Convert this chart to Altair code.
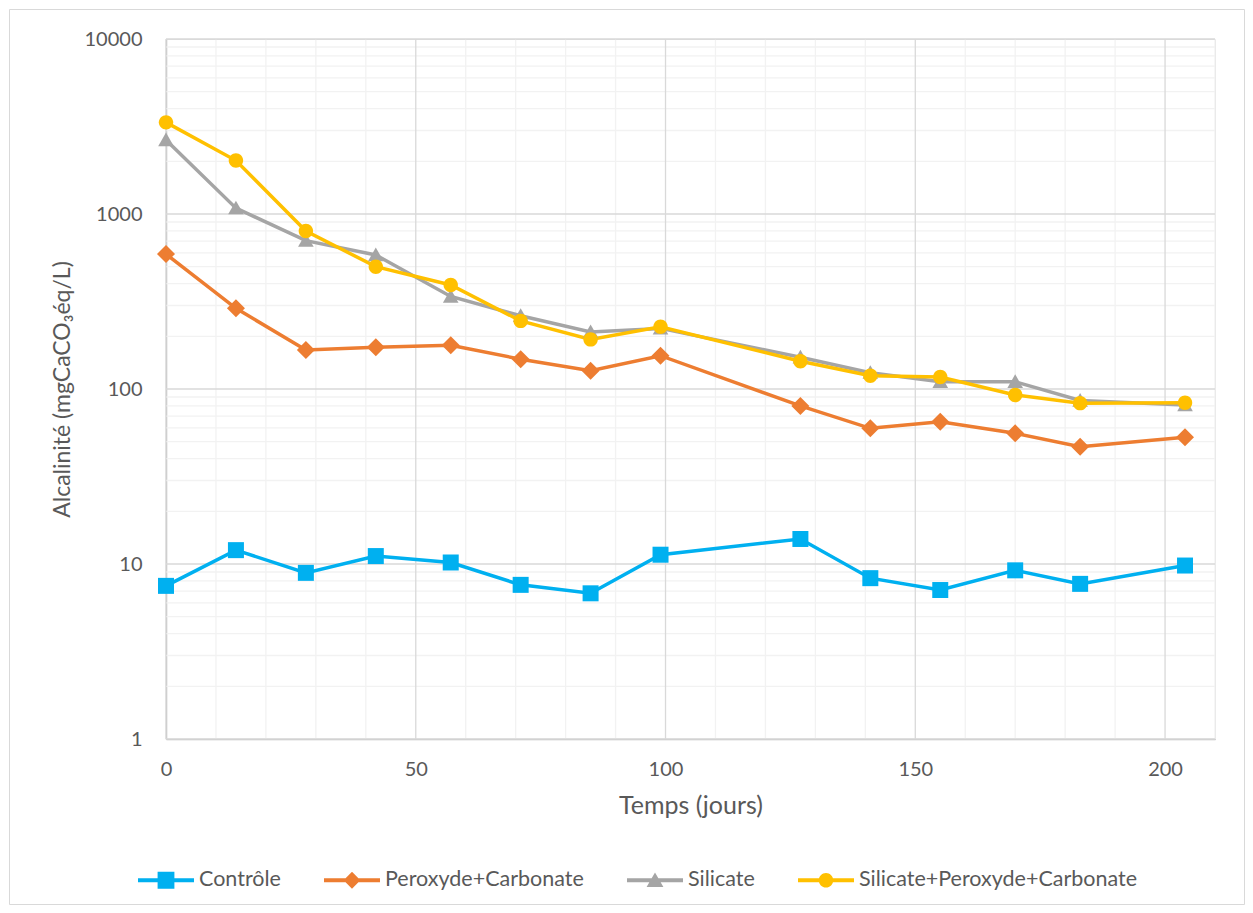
import altair as alt
import pandas as pd

# ---- data ----
days = [0, 14, 28, 42, 57, 71, 85, 99, 127, 141, 155, 170, 183, 204]
controle = [7.5, 12.0, 8.9, 11.1, 10.2, 7.6, 6.8, 11.3, 13.9, 8.3, 7.1, 9.2, 7.7, 9.8]
peroxyde_carbonate = [590, 289, 167, 173, 178, 148, 127, 155, 80, 59.6, 65, 55.8, 46.8, 53]
silicate = [2650, 1080, 704, 583, 338, 262, 212, 222, 152, 124, 110, 110, 86, 81]
silicate_perox_carb = [3340, 2020, 800, 500, 393, 245, 192, 227, 144, 119, 117, 92.4, 83, 83.4]

series_names = ["Contrôle", "Peroxyde+Carbonate", "Silicate", "Silicate+Peroxyde+Carbonate"]
series_values = [controle, peroxyde_carbonate, silicate, silicate_perox_carb]
series_colors = ["#00B0F0", "#ED7D31", "#A5A5A5", "#FFC000"]

x_major = [0, 50, 100, 150, 200]
x_minor = [10, 20, 30, 40, 60, 70, 80, 90, 110, 120, 130, 140, 160, 170, 180, 190, 210]
y_major = [1, 10, 100, 1000, 10000]
y_minor = [m * d for d in [1, 10, 100, 1000] for m in range(2, 10)]

rows = []
for name, vals in zip(series_names, series_values):
    for d, v in zip(days, vals):
        rows.append({"Temps": d, "Alcalinite": v, "Serie": name})
df = pd.DataFrame(rows)

# chart markers (custom paths, drawn in a [-1, 1] box)
marker_paths = [
    "M-0.8,-0.8H0.8V0.8H-0.8Z",
    "M0,-0.9L0.9,0L0,0.9L-0.9,0Z",
    "M0,-0.75L0.78,0.62L-0.78,0.62Z",
    "M0.72,0A0.72,0.72 0 1,1 -0.72,0A0.72,0.72 0 1,1 0.72,0Z",
]
# legend symbols: line segment + marker
LINE = "M-1,-0.07H1V0.07H-1Z "
legend_paths = [
    LINE + "M-0.3,-0.3H0.3V0.3H-0.3Z",
    LINE + "M0,-0.3L0.3,0L0,0.3L-0.3,0Z",
    LINE + "M0,-0.28L0.3,0.24L-0.3,0.24Z",
    LINE + "M0.26,0A0.26,0.26 0 1,1 -0.26,0A0.26,0.26 0 1,1 0.26,0Z",
]

FONT = "Lato"
TXT = "#595959"
W, H = 1049, 700

x_scale = alt.Scale(domain=[0, 210], nice=False, zero=False)
y_scale = alt.Scale(type="log", domain=[1, 10000], nice=False)

x_enc = alt.X(
    "Temps:Q", scale=x_scale,
    axis=alt.Axis(values=x_major, title="Temps (jours)", grid=False, ticks=False, tickSize=0,
                  labelPadding=20, labelFlush=False, domainColor="#BFBFBF", domainWidth=1.5,
                  labelFontSize=20, labelColor=TXT, labelFont=FONT,
                  titleFontSize=25, titleColor=TXT, titleFont=FONT, titleFontWeight="normal",
                  titlePadding=14),
)
y_enc = alt.Y(
    "Alcalinite:Q", scale=y_scale,
    axis=alt.Axis(values=y_major, format="d", title="Alcalinité (mgCaCO₃éq/L)", grid=False,
                  ticks=False, tickSize=0, labelPadding=24, labelFlush=False,
                  domainColor="#BFBFBF", domainWidth=1.5,
                  labelFontSize=20, labelColor=TXT, labelFont=FONT,
                  titleFontSize=23, titleColor=TXT, titleFont=FONT, titleFontWeight="normal",
                  titleX=-104, titleY=H / 2, titleAngle=270, titleAlign="center",
                  titleBaseline="middle"),
)

vminor = alt.Chart(pd.DataFrame({"v": x_minor})).mark_rule(color="#F2F2F2", strokeWidth=1.3).encode(
    x=alt.X("v:Q", scale=x_scale))
hminor = alt.Chart(pd.DataFrame({"v": y_minor})).mark_rule(color="#F2F2F2", strokeWidth=1.3).encode(
    y=alt.Y("v:Q", scale=y_scale))
vmajor = alt.Chart(pd.DataFrame({"v": x_major})).mark_rule(color="#D9D9D9", strokeWidth=1.3).encode(
    x=alt.X("v:Q", scale=x_scale))
hmajor = alt.Chart(pd.DataFrame({"v": y_major})).mark_rule(color="#D9D9D9", strokeWidth=1.3).encode(
    y=alt.Y("v:Q", scale=y_scale))

color_main = alt.Color("Serie:N", scale=alt.Scale(domain=series_names, range=series_colors), legend=None)

lines = alt.Chart(df).mark_line(strokeWidth=3.5).encode(
    x=x_enc, y=y_enc, color=color_main, detail="Serie:N")

points = alt.Chart(df).mark_point(filled=True, opacity=1, strokeWidth=0, size=400).encode(
    x=x_enc, y=y_enc, color=color_main,
    shape=alt.Shape("Serie:N", scale=alt.Scale(domain=series_names, range=marker_paths), legend=None),
)

data_layer = alt.layer(lines, points)

leg = alt.Legend(title=None, orient="none", direction="horizontal", legendX=-28, legendY=813,
                 symbolSize=3136, symbolStrokeWidth=0, labelFontSize=21.5, labelColor=TXT,
                 labelFont=FONT, labelOffset=5, columnPadding=43, symbolOpacity=1,
                 labelLimit=0)

legend_layer = alt.Chart(df).transform_filter("datum.Alcalinite < 0").mark_point(
    filled=True, opacity=1).encode(
    color=alt.Color("Serie:N", scale=alt.Scale(domain=series_names, range=series_colors), legend=leg),
    shape=alt.Shape("Serie:N", scale=alt.Scale(domain=series_names, range=legend_paths), legend=leg),
)

border = alt.Chart(pd.DataFrame({"a": [0]})).mark_rect(
    fill=None, stroke="#D9D9D9", strokeWidth=1).encode(
    x=alt.value(-156.5), x2=alt.value(1078.5), y=alt.value(-29.5), y2=alt.value(865.5))

chart = alt.layer(
    border, vminor, hminor, vmajor, hmajor, data_layer, legend_layer
).resolve_scale(
    color="independent", shape="independent"
).properties(
    width=W, height=H,
    autosize=alt.AutoSizeParams(type="none"),
    padding={"left": 158, "top": 31, "right": 30, "bottom": 166},
).configure_view(stroke=None).configure(background="white")

chart.save("out.html", embed_options={"renderer": "svg", "actions": False})
